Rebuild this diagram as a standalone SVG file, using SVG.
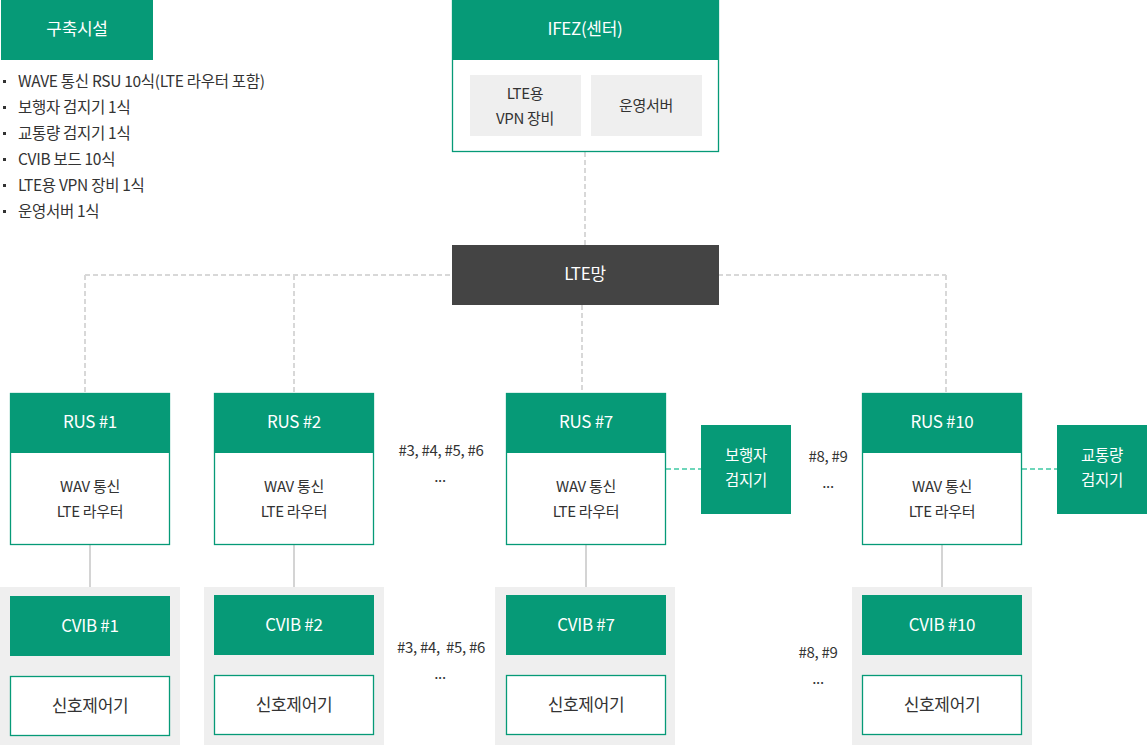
<svg xmlns="http://www.w3.org/2000/svg" width="1147" height="745" viewBox="0 0 1147 745">
<style>
text{font-family:"Noto Sans CJK KR","Noto Sans",sans-serif;letter-spacing:-0.3px;}
.g{fill:#069A77;}
.wb{fill:#fff;stroke:#069A77;stroke-width:1.3;}
.bg{fill:#EFEFEF;}
.h{fill:#fff;font-size:17px;text-anchor:middle;}
.d{font-size:15.5px;}
.t{fill:#333;font-size:15px;text-anchor:middle;}
.s{font-size:17px;}
.l{fill:#333;font-size:15.5px;}
.pre{white-space:pre;}
.dash{stroke:#D8D8D8;stroke-width:2;stroke-dasharray:5 3;fill:none;}
.solid{stroke:#D4D4D4;stroke-width:2;fill:none;}
.tdash{stroke:#6ED6BA;stroke-width:2;stroke-dasharray:5 3;fill:none;}
</style>
<rect width="1147" height="745" fill="#fff"/>
<g id="legend">
<rect class="g" x="1" y="0" width="152" height="60"/>
<text class="h" x="77" y="35">구축시설</text>
<g fill="#333"><rect x="3" y="80" width="3" height="3"/><rect x="3" y="106" width="3" height="3"/><rect x="3" y="132" width="3" height="3"/><rect x="3" y="158" width="3" height="3"/><rect x="3" y="184" width="3" height="3"/><rect x="3" y="210" width="3" height="3"/></g>
<text class="l" x="18" y="87">WAVE 통신 RSU 10식(LTE 라우터 포함)</text>
<text class="l" x="18" y="113">보행자 검지기 1식</text>
<text class="l" x="18" y="139">교통량 검지기 1식</text>
<text class="l" x="18" y="165">CVIB 보드 10식</text>
<text class="l" x="18" y="191">LTE용 VPN 장비 1식</text>
<text class="l" x="18" y="217">운영서버 1식</text>
</g>
<g id="connectors">
<path class="dash" d="M585 152V245M85 275H452M718 275H946M85 275V393M294 275V393M946 275V393M582 305V393"/>
<path class="solid" d="M90 545V596M90 656V676M294 545V595M294 655V676M586 545V595M586 655V676M942 545V595M942 655V676"/>
<path class="tdash" d="M666 469H701M1022 469H1057"/>
</g>
<g id="ifez">
<rect class="wb" x="452.5" y="0.5" width="266" height="151"/>
<rect class="g" x="452" y="0" width="267" height="60"/>
<text class="h" x="585" y="35">IFEZ(센터)</text>
<rect class="bg" x="470" y="75" width="111" height="61"/>
<text class="t" x="525" y="99">LTE용</text>
<text class="t" x="525" y="124">VPN 장비</text>
<rect class="bg" x="591" y="75" width="111" height="61"/>
<text class="t" x="646" y="111">운영서버</text>
</g>
<g id="lte">
<rect x="452" y="245" width="267" height="60" fill="#444"/>
<text class="h" x="585" y="280">LTE망</text>
</g>
<g id="cvib-bg">
<rect class="bg" x="0" y="587" width="180" height="158"/>
<rect class="bg" x="204" y="587" width="180" height="158"/>
<rect class="bg" x="495" y="587" width="180" height="158"/>
<rect class="bg" x="852" y="587" width="180" height="158"/>
</g>
<g id="rus1">
<rect class="wb" x="10.5" y="393.5" width="159" height="151"/>
<rect class="g" x="10" y="393" width="160" height="60"/>
<text class="h" x="90" y="428">RUS #1</text>
<text class="t" x="90" y="492">WAV 통신</text>
<text class="t" x="90" y="517">LTE 라우터</text>
</g>
<g id="rus2">
<rect class="wb" x="214.5" y="393.5" width="159" height="151"/>
<rect class="g" x="214" y="393" width="160" height="60"/>
<text class="h" x="294" y="428">RUS #2</text>
<text class="t" x="294" y="492">WAV 통신</text>
<text class="t" x="294" y="517">LTE 라우터</text>
</g>
<g id="rus7">
<rect class="wb" x="506.5" y="393.5" width="159" height="151"/>
<rect class="g" x="506" y="393" width="160" height="60"/>
<text class="h" x="586" y="428">RUS #7</text>
<text class="t" x="586" y="492">WAV 통신</text>
<text class="t" x="586" y="517">LTE 라우터</text>
</g>
<g id="rus10">
<rect class="wb" x="862.5" y="393.5" width="159" height="151"/>
<rect class="g" x="862" y="393" width="160" height="60"/>
<text class="h" x="942" y="428">RUS #10</text>
<text class="t" x="942" y="492">WAV 통신</text>
<text class="t" x="942" y="517">LTE 라우터</text>
</g>
<g id="ped">
<rect class="g" x="701" y="425" width="90" height="89"/>
<text class="h d" x="746" y="461">보행자</text>
<text class="h d" x="746" y="486">검지기</text>
</g>
<g id="traffic">
<rect class="g" x="1057" y="425" width="90" height="89"/>
<text class="h d" x="1102" y="461">교통량</text>
<text class="h d" x="1102" y="486">검지기</text>
</g>
<g id="cvib1">
<rect class="g" x="10" y="596" width="160" height="60"/>
<text class="h" x="90" y="632">CVIB #1</text>
<rect class="wb" x="10.5" y="676.5" width="159" height="59"/>
<text class="t s" x="90" y="712">신호제어기</text>
</g>
<g id="cvib2">
<rect class="g" x="214" y="595" width="160" height="60"/>
<text class="h" x="294" y="631">CVIB #2</text>
<rect class="wb" x="214.5" y="675.5" width="159" height="59"/>
<text class="t s" x="294" y="711">신호제어기</text>
</g>
<g id="cvib7">
<rect class="g" x="506" y="595" width="160" height="60"/>
<text class="h" x="586" y="631">CVIB #7</text>
<rect class="wb" x="506.5" y="675.5" width="159" height="59"/>
<text class="t s" x="586" y="711">신호제어기</text>
</g>
<g id="cvib10">
<rect class="g" x="862" y="595" width="160" height="60"/>
<text class="h" x="942" y="631">CVIB #10</text>
<rect class="wb" x="862.5" y="675.5" width="159" height="59"/>
<text class="t s" x="942" y="711">신호제어기</text>
</g>
<g id="labels">
<text class="t" x="441" y="456">#3, #4, #5, #6</text>
<text class="t" x="440" y="482">...</text>
<text class="t" x="828" y="462">#8, #9</text>
<text class="t" x="828" y="488">...</text>
<text class="t pre" x="441" y="653">#3, #4,  #5, #6</text>
<text class="t" x="440" y="679">...</text>
<text class="t" x="818" y="658">#8, #9</text>
<text class="t" x="818" y="684">...</text>
</g>
</svg>
